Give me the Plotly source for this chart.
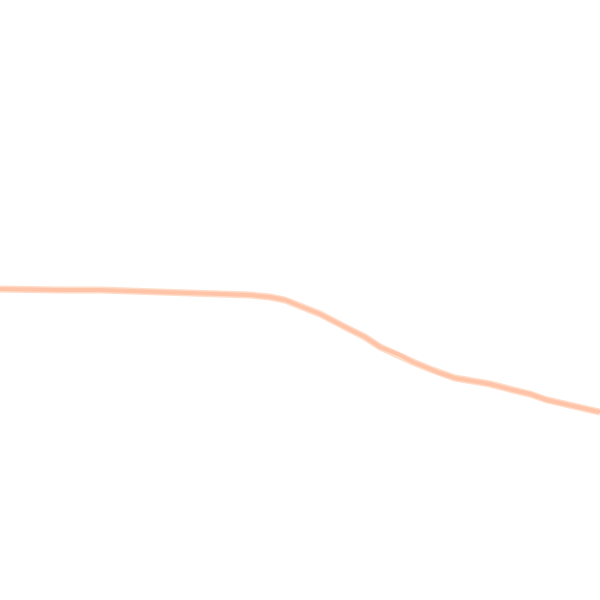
import plotly.graph_objects as go

# readings along the curve (x position, level)
x_vals = [0, 30, 60, 100, 130, 160, 190, 220, 250, 270, 285, 300, 320, 347, 365, 380,
          400, 413, 430, 440, 455, 467, 490, 513, 530, 547, 570, 585, 600]
y_vals = [311, 310, 310, 310, 309, 308, 308, 307, 305, 303, 300, 294, 286, 272, 263, 253,
          245, 238, 231, 227, 222, 220, 216, 210, 206, 200, 195, 191, 188]

halo = go.Scatter(x=x_vals, y=y_vals, mode='lines',
                  line=dict(color='#ffdcc8', width=7), hoverinfo='skip')
core = go.Scatter(x=x_vals, y=y_vals, mode='lines',
                  line=dict(color='#ffc3a8', width=4), hoverinfo='skip')

fig = go.Figure(data=[halo, core])
fig.update_layout(width=600, height=600, margin=dict(l=0, r=0, t=0, b=0),
                  paper_bgcolor='white', plot_bgcolor='white', showlegend=False,
                  xaxis=dict(range=[0, 600], visible=False),
                  yaxis=dict(range=[0, 600], visible=False))
# drop the page's default body margin so the plot fills the window
fig.write_html("out.html", config={'displayModeBar': False},
               post_script="document.body.style.margin='0';")
